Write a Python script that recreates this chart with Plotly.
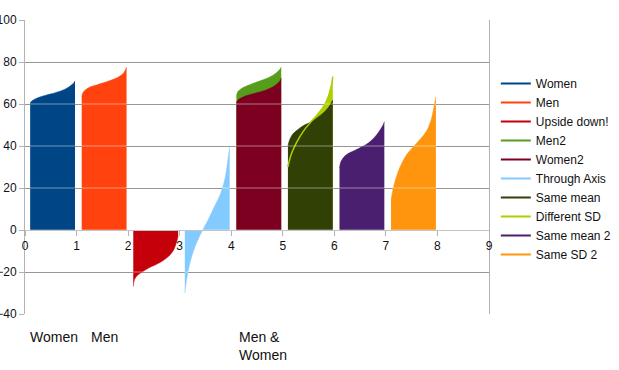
import plotly.graph_objects as go

# ---- data ----
quantile_levels = [0, 0.03, 0.1, 0.2, 0.35, 0.5, 0.65, 0.8, 0.9, 0.97, 1.0]

series_names = ["Women", "Men", "Upside down!", "Men2", "Women2", "Through Axis",
                "Same mean", "Different SD", "Same mean 2", "Same SD 2"]
series_group = {"Women": 0, "Men": 1, "Upside down!": 2, "Through Axis": 3,
                "Men2": 4, "Women2": 4, "Same mean": 5, "Different SD": 5,
                "Same mean 2": 6, "Same SD 2": 7}

women = [60.5, 61.3, 62.3, 63.2, 64.2, 65.0, 66.0, 67.3, 68.7, 70.0, 71.0]
men = [63.3, 65.5, 67.0, 68.2, 69.2, 70.2, 71.3, 72.6, 74.0, 76.0, 77.6]
upside_down = [-27.0, -23.5, -21.4, -20.0, -18.0, -16.5, -14.8, -12.3, -9.5, -5.5, -3.0]
men2 = [63.5, 65.8, 67.2, 68.3, 69.6, 70.8, 72.0, 73.5, 75.0, 76.5, 77.6]
women2 = [60.5, 61.8, 62.8, 63.8, 64.8, 65.6, 66.6, 68.0, 69.5, 71.0, 72.4]
through_axis = [-30.0, -25.0, -17.0, -9.5, -2.0, 4.0, 10.7, 17.5, 25.0, 35.0, 39.5]
same_mean = [40.0, 42.5, 45.5, 47.5, 49.8, 51.3, 53.5, 56.0, 58.3, 60.8, 62.0]
different_sd = [30.0, 33.0, 37.5, 42.0, 47.2, 51.2, 54.8, 59.0, 63.5, 69.0, 73.0]
same_mean_2 = [29.5, 32.5, 34.8, 36.5, 38.0, 39.6, 41.5, 44.6, 47.5, 50.0, 51.6]
same_sd_2 = [14.0, 18.0, 24.0, 30.0, 36.0, 39.7, 43.2, 47.5, 53.0, 60.0, 63.5]

values = {"Women": women, "Men": men, "Upside down!": upside_down, "Men2": men2,
          "Women2": women2, "Through Axis": through_axis, "Same mean": same_mean,
          "Different SD": different_sd, "Same mean 2": same_mean_2, "Same SD 2": same_sd_2}

colors = {"Women": "#004586", "Men": "#ff420e", "Upside down!": "#c5000b",
          "Men2": "#579d1c", "Women2": "#7e0021", "Through Axis": "#83caff",
          "Same mean": "#314004", "Different SD": "#aecf00",
          "Same mean 2": "#4b1f6f", "Same SD 2": "#ff950e"}

x_ticks = list(range(0, 10))
y_ticks = [-40, -20, 0, 20, 40, 60, 80, 100]
bottom_labels = [("Women", 0.06), ("Men", 1.24), ("Men &<br>Women", 4.11)]

# ---- layout constants ----
band_start = 0.1
band_width = 0.87


def xs(name):
    g = series_group[name]
    return [g + band_start + band_width * p for p in quantile_levels]


fig = go.Figure()


def add_fill(name):
    fig.add_trace(go.Scatter(
        x=xs(name), y=values[name], mode="lines", fill="tozeroy",
        line=dict(color=colors[name], width=0.5, shape="spline", smoothing=0.9),
        fillcolor=colors[name], showlegend=False, hoverinfo="skip"))


draw_order = ["Women", "Men", "Upside down!", "Through Axis", "Men2", "Women2",
              "Different SD", "Same mean"]
for n in draw_order:
    add_fill(n)

# line of "Different SD" drawn over "Same mean"
fig.add_trace(go.Scatter(
    x=xs("Different SD"), y=values["Different SD"], mode="lines",
    line=dict(color=colors["Different SD"], width=1.5, shape="spline", smoothing=0.9),
    showlegend=False, hoverinfo="skip"))

for n in ["Same mean 2", "Same SD 2"]:
    add_fill(n)

# legend entries (line symbols)
for n in series_names:
    fig.add_trace(go.Scatter(x=[None], y=[None], mode="lines", name=n,
                             line=dict(color=colors[n], width=2)))

# gridlines overlay (lighten over fills)
for yv in y_ticks:
    fig.add_shape(type="line", xref="x", yref="y", x0=x_ticks[0], x1=x_ticks[-1],
                  y0=yv, y1=yv, layer="above",
                  line=dict(color="rgba(255,255,255,0.45)", width=1))

y_min, y_max = y_ticks[0], y_ticks[-1]

for text, xv in bottom_labels:
    fig.add_annotation(text=text, x=xv, xref="x", y=-0.045, yref="paper",
                       xanchor="left", yanchor="top", showarrow=False, align="left",
                       font=dict(family="Liberation Sans, Arial, sans-serif", size=14,
                                 color="#111111"))

grid_col = "#7a7a7a"
fig.update_layout(
    width=619, height=370,
    margin=dict(l=25, r=130, t=20, b=56),
    paper_bgcolor="white", plot_bgcolor="white",
    font=dict(family="Liberation Sans, Arial, sans-serif", size=12, color="#111111"),
    showlegend=True,
    legend=dict(xref="container", yref="paper", x=0.801, xanchor="left",
                y=0.493, yanchor="middle",
                font=dict(size=12), bgcolor="rgba(0,0,0,0)", traceorder="normal",
                itemwidth=30, tracegroupgap=0),
    xaxis=dict(range=[x_ticks[0], x_ticks[-1]], tickvals=x_ticks, showgrid=False,
               zeroline=False, showline=True, linecolor="#b3b3b3", linewidth=1,
               ticks="outside", ticklen=5, tickcolor="#b3b3b3", automargin=False,
               anchor="free", position=(0 - y_min) / (y_max - y_min)),
    yaxis=dict(range=[y_min, y_max], tickvals=y_ticks, showgrid=True,
               gridcolor=grid_col, gridwidth=1, zeroline=False, showline=True,
               linecolor="#b3b3b3", linewidth=1, mirror=True, automargin=False,
               ticks="outside", ticklen=5, tickcolor="#b3b3b3"),
)

fig.write_html("out.html", config={"displayModeBar": False},
               post_script="document.body.style.margin='0';")
